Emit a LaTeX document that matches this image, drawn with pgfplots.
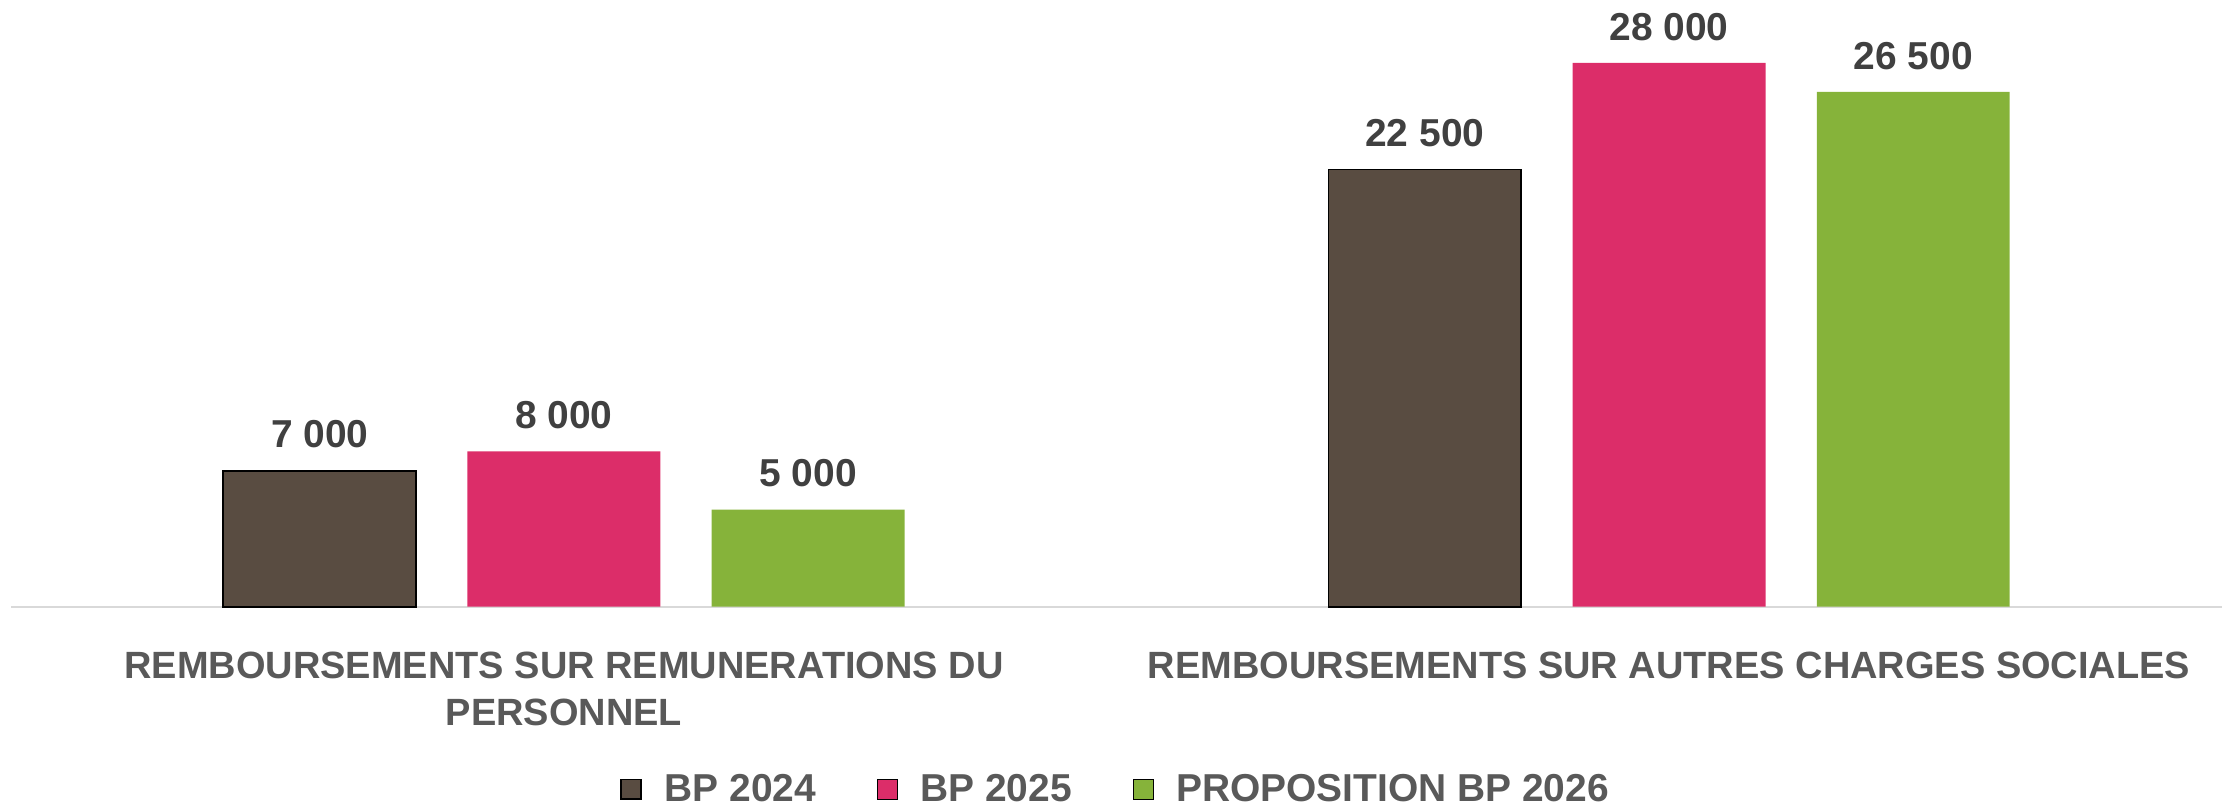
\documentclass[border=0pt]{standalone}
\usepackage{fontspec}
\setmainfont{Liberation Sans}
\usepackage{pgfplots}
\pgfplotsset{compat=1.18}
\definecolor{cbrown}{HTML}{594C41}
\definecolor{cpink}{HTML}{DC2D69}
\definecolor{cgreen}{HTML}{86B33A}
\definecolor{ctext}{HTML}{595959}
\definecolor{cval}{HTML}{404040}
\definecolor{caxis}{HTML}{D9D9D9}
\newcommand{\ff}{\fontsize{20.5}{24.75}\selectfont\bfseries}
\newcommand{\fc}{\fontsize{20}{24.75}\selectfont\bfseries}
\begin{document}
\begin{tikzpicture}
\begin{axis}[name=ax, scale only axis, width=1164pt, height=306.9pt,
  xmin=-0.5, xmax=1.5, ymin=0, ymax=30000,
  axis x line*=bottom, axis y line=none,
  x axis line style={draw=caxis, line width=1.2pt, -},
  xtick={0,1}, ytick=\empty, major tick length=0pt,
  xticklabels={{REMBOURSEMENTS SUR REMUNERATIONS DU\\PERSONNEL},{REMBOURSEMENTS SUR AUTRES CHARGES SOCIALES}},
  xticklabel style={font=\fc, text=ctext, align=center, anchor=north, inner sep=0pt, yshift=-23.8pt},
  ybar=27pt, bar width=101.6pt,
  nodes near coords,
  nodes near coords style={font=\ff, text=cval, anchor=south, inner sep=0pt, yshift=11.5pt},
  /pgf/number format/1000 sep={\ }, /pgf/number format/fixed, /pgf/number format/precision=0,
  /pgf/number format/assume math mode=true,
  clip=false,
  legend columns=-1,
  legend image code/.code={\draw[#1] (0pt,-5.25pt) rectangle (10.5pt,5.25pt);},
  legend style={at={(0.5,-0.3135)}, anchor=center, draw=none, fill=none, font=\ff, text=ctext,
    /tikz/every even column/.append style={column sep=30pt},
    /tikz/every odd column/.append style={column sep=10pt}},
]
\addplot[fill=cbrown, draw=black, line width=0.9pt] coordinates {(0,7000) (1,22500)};
\addplot[fill=cpink, draw=none] coordinates {(0,8000) (1,28000)};
\addplot[fill=cgreen, draw=none] coordinates {(0,5000) (1,26500)};
\legend{BP 2024, BP 2025, PROPOSITION BP 2026}
\end{axis}
\pgfresetboundingbox
\path ([shift={(-6pt,-105.75pt)}]ax.south west) rectangle ([shift={(6pt,12.6pt)}]ax.north east);
\end{tikzpicture}
\end{document}
